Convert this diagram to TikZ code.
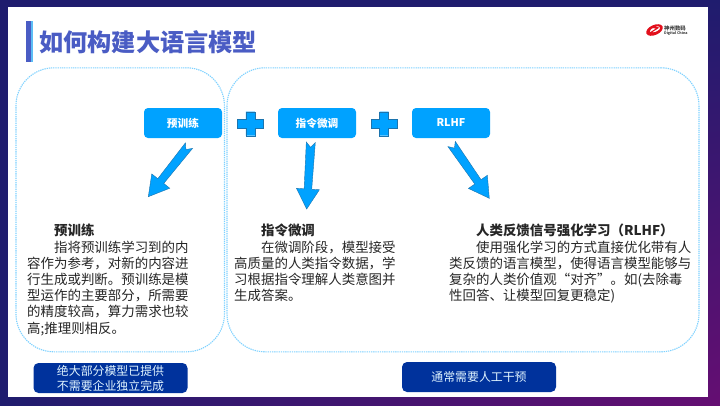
\documentclass[tikz,border=0pt]{standalone}
\usepackage{fontspec}
\setmainfont{Noto Sans CJK SC}
\usepackage{xcolor}
\usetikzlibrary{calc, shadings}
\definecolor{framenavy}{HTML}{1F1C6E}
\definecolor{framepurple}{HTML}{650E72}
\definecolor{titleblue}{HTML}{4A5CC4}
\definecolor{barlight}{HTML}{5CBDF5}
\definecolor{panelblue}{HTML}{7FD2FF}
\definecolor{stepblue}{HTML}{00A2FF}
\definecolor{edgeblue}{HTML}{1B74AE}
\definecolor{noteblue}{HTML}{00329C}
\definecolor{logored}{HTML}{E2101C}

% Block arrow from a tail point to a tip point: notched tail, narrow shaft, wide head.
\newcommand{\blockarrow}[2]{%
    \coordinate (neck)  at ($(#2)!20pt!(#1)$);
    \coordinate (notch) at ($(#1)!5pt!(#2)$);
    \draw[blockshape] ($(#1)!4.5pt!90:(#2)$) -- (notch) -- ($(#1)!4.5pt!-90:(#2)$)
        -- ($(neck)!3.8pt!90:(#1)$) -- ($(neck)!11.5pt!90:(#1)$) -- (#2)
        -- ($(neck)!11.5pt!-90:(#1)$) -- ($(neck)!3.8pt!-90:(#1)$) -- cycle;
}

\begin{document}
\begin{tikzpicture}[x=1pt, y=-1pt,
    % Dotted rounded panels behind the columns.
    panel/.style={rectangle, draw=panelblue, line width=1.1pt,
                  dash pattern=on 1.3pt off 0.9pt, rounded corners=38pt, inner sep=0pt},
    % Step buttons in the top row.
    stepbox/.style={rectangle, fill=stepblue, rounded corners=4pt, inner sep=0pt,
                    minimum width=78pt, minimum height=30pt, text=white,
                    font=\fontsize{10.7}{12}\selectfont\bfseries},
    % Dark notes under the panels.
    notebox/.style={rectangle, fill=noteblue, rounded corners=5pt, inner sep=0pt,
                    minimum width=154pt, minimum height=30pt, align=center,
                    text=white!88!stepblue,
                    font=\fontsize{11.9}{15}\selectfont},
    % Column text, set line by line as in the slide.
    bodytext/.style={anchor=north west, inner sep=0pt, align=left, text=black!85,
                     font=\fontsize{13.45}{16.2}\selectfont},
    blockshape/.style={fill=stepblue, draw=edgeblue, line width=0.4pt, line join=miter},
    plussign/.pic={
        \draw[blockshape] (-4.5,-12) -- (4.5,-12) -- (4.5,-4.3) -- (13,-4.3) -- (13,4.3)
            -- (4.5,4.3) -- (4.5,12) -- (-4.5,12) -- (-4.5,4.3) -- (-13,4.3) -- (-13,-4.3)
            -- (-4.5,-4.3) -- cycle;
    }
]
    \useasboundingbox (0,0) rectangle (720,405);

    % === Slide frame ===
    \shade[upper left=framenavy, upper right=framenavy, lower left=framenavy,
           lower right=framepurple] (0,0) rectangle (720,405);
    \fill[white] (8,7) rectangle (708,397);

    % === Title ===
    \fill[titleblue] (26,21) rectangle (31,62);
    \fill[barlight]  (31,21) rectangle (33,62);
    \node[anchor=west, inner sep=0pt, text=titleblue,
          font=\fontsize{24.2}{28}\selectfont\bfseries] (title) at (39,42) {如何构建大语言模型};

    % === Logo ===
    \fill[logored, even odd rule, rotate around={24:(654.5,30)}]
        (654.5,30) ellipse (8.8 and 5) (655.2,29.8) ellipse (5.8 and 2.4);
    \draw[logored, line width=1.1pt] (650,27.6) -- (658,27.8) -- (650,33) -- (658,32.6);
    \node[anchor=west, inner sep=0pt, text=black!75, font=\fontsize{5.4}{6}\selectfont\bfseries]
        (logocn) at (664,28) {神州数码};
    \node[anchor=west, inner sep=0pt, text=black!75, font=\fontsize{3.6}{4}\selectfont\bfseries]
        (logoen) at (664,33.7) {Digital China};

    % === Panels ===
    \node[panel, minimum width=208.5pt, minimum height=284pt] (leftpanel)  at (120.2,209.8) {};
    \node[panel, minimum width=472pt,   minimum height=284pt] (rightpanel) at (463,209.8) {};

    % === Step row ===
    \node[stepbox] (pretrain) at (183,123) {预训练};
    \node[stepbox] (finetune) at (317,123) {指令微调};
    \node[stepbox] (rlhf)     at (451,123) {RLHF};
    \pic (plusa) at (250.3,123.7) {plussign};
    \pic (plusb) at (384,123.7)   {plussign};

    % === Block arrows ===
    \coordinate (pretail)  at (189,145.6);
    \coordinate (pretip)   at (148.3,196.7);
    \coordinate (finetail) at (310.8,142.3);
    \coordinate (finetip)  at (306.7,209);
    \coordinate (rlhftail) at (451.6,144);
    \coordinate (rlhftip)  at (489.3,198.3);
    \blockarrow{pretail}{pretip}
    \blockarrow{finetail}{finetip}
    \blockarrow{rlhftail}{rlhftip}

    % === Column text ===
    \node[bodytext] (pretext) at (27,224) {%
        \hspace*{2em}\textbf{预训练}\\
        \hspace*{2em}指将预训练学习到的内\\
        容作为参考，对新的内容进\\
        行生成或判断。预训练是模\\
        型运作的主要部分，所需要\\
        的精度较高，算力需求也较\\
        高;推理则相反。};
    \node[bodytext] (finetext) at (234,224) {%
        \hspace*{2em}\textbf{指令微调}\\
        \hspace*{2em}在微调阶段，模型接受\\
        高质量的人类指令数据，学\\
        习根据指令理解人类意图并\\
        生成答案。};
    \node[bodytext] (rlhftext) at (449,224) {%
        \hspace*{2em}\textbf{人类反馈信号强化学习（RLHF）}\\
        \hspace*{2em}使用强化学习的方式直接优化带有人\\
        类反馈的语言模型，使得语言模型能够与\\
        复杂的人类价值观“对齐”。如(去除毒\\
        性回答、让模型回复更稳定)};

    % === Notes ===
    \node[notebox] (leftnote)  at (110.5,378) {绝大部分模型已提供\\不需要企业独立完成};
    \node[notebox] (rightnote) at (479,377)   {通常需要人工干预};

\end{tikzpicture}
\end{document}
